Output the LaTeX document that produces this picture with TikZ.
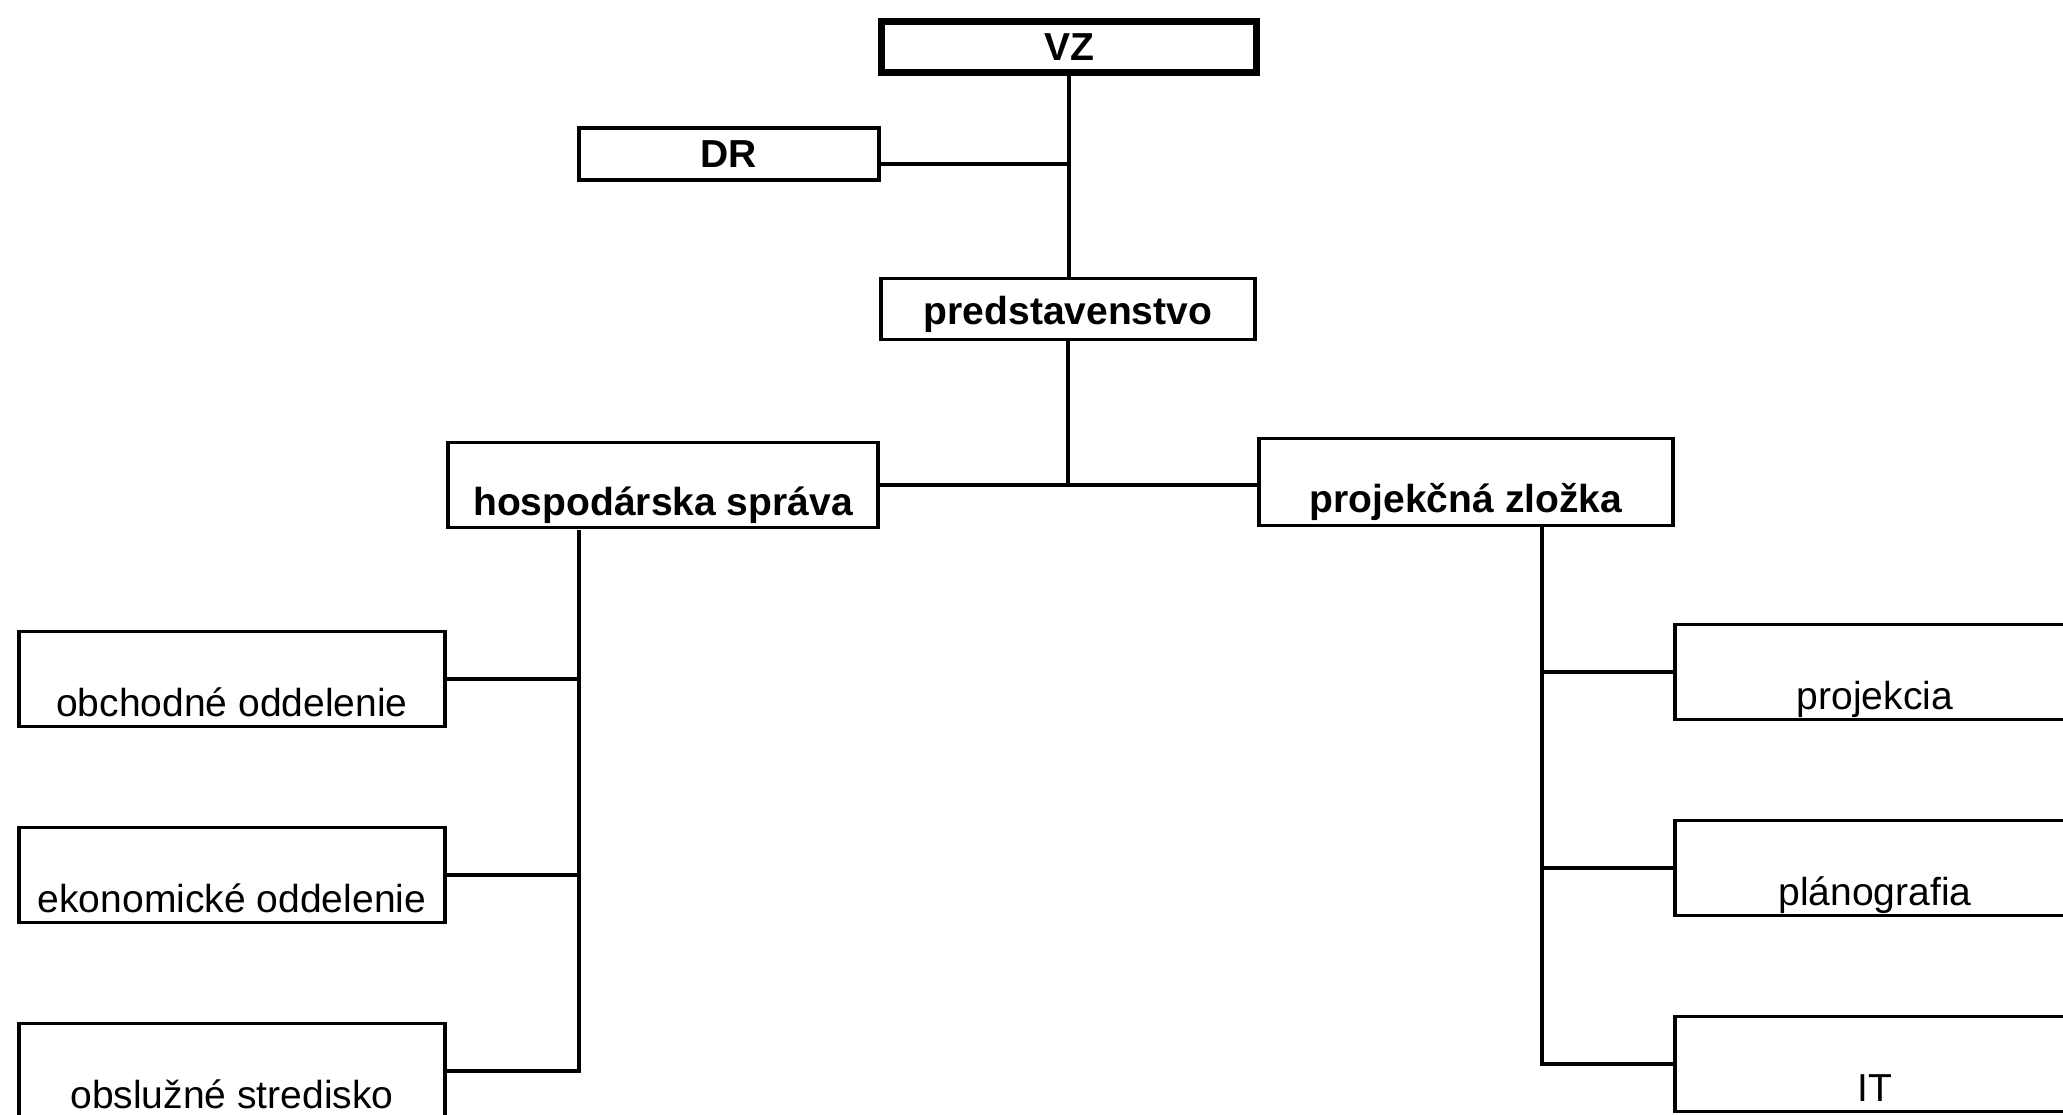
\documentclass[tikz,border=0pt]{standalone}
\usepackage{fontspec}
\setmainfont{Liberation Sans}
\usetikzlibrary{positioning}

\begin{document}
\begin{tikzpicture}[x=0.01cm, y=-0.01cm, node distance={9.7mm}, line width=1.1pt,
    font=\fontsize{11.1pt}{13pt}\selectfont,
    head/.style = {draw, font=\fontsize{11.1pt}{13pt}\selectfont\bfseries},
    unit/.style = {draw, inner ysep=0pt, text height=8.5mm, text depth=1mm}]
    \useasboundingbox (0,0) rectangle (2063,1115);
    \clip (0,0) rectangle (2063,1115);

    \node[head, line width=2.2pt, minimum width=37.5mm, minimum height=5.1mm] (vz) at (1069,47) {VZ};
    \node[head, minimum width=30mm, minimum height=5.2mm] (dr) at (729,154) {DR};
    \node[head, minimum width=37.3mm, inner ysep=0pt, text height=4.6mm, text depth=1.5mm] (pred) at (1068,309) {predstavenstvo};
    \node[head, minimum width=43mm, inner ysep=0pt, text height=7.3mm, text depth=1.2mm] (hs) at (663,485) {hospodárska správa};
    \node[head, minimum width=41.4mm, inner ysep=0pt, text height=7.4mm, text depth=1.3mm] (pz) at (1466,482) {projekčná zložka};

    \node[unit, minimum width=42.6mm] (ob) at (232,679) {obchodné oddelenie};
    \node[unit, minimum width=42.6mm] (ek) [below=of ob] {ekonomické oddelenie};
    \node[unit, minimum width=42.6mm] (os) [below=of ek] {obslužné stredisko};

    \node[unit, minimum width=40mm] (pj) at (1875,672) {projekcia};
    \node[unit, minimum width=40mm] (pl) [below=of pj] {plánografia};
    \node[unit, minimum width=40mm] (it) [below=of pl] {IT};

    \coordinate (hsb) at (579,530);
    \coordinate (pzb) at (1542,527);

    \draw (vz.south) -- (vz.south |- pred.north);
    \draw ([yshift=-1mm]dr.east) -- ([yshift=-1mm]dr.east -| vz.south);
    \draw (pred) -- (pred |- hs.east);
    \draw (hs.east) -- (hs.east -| pz.west);

    \draw (hsb) |- (os.east);
    \draw (hsb |- ob.east) -- (ob.east);
    \draw (hsb |- ek.east) -- (ek.east);

    \draw (pzb) |- (it.west);
    \draw (pzb |- pj.west) -- (pj.west);
    \draw (pzb |- pl.west) -- (pl.west);
\end{tikzpicture}
\end{document}
